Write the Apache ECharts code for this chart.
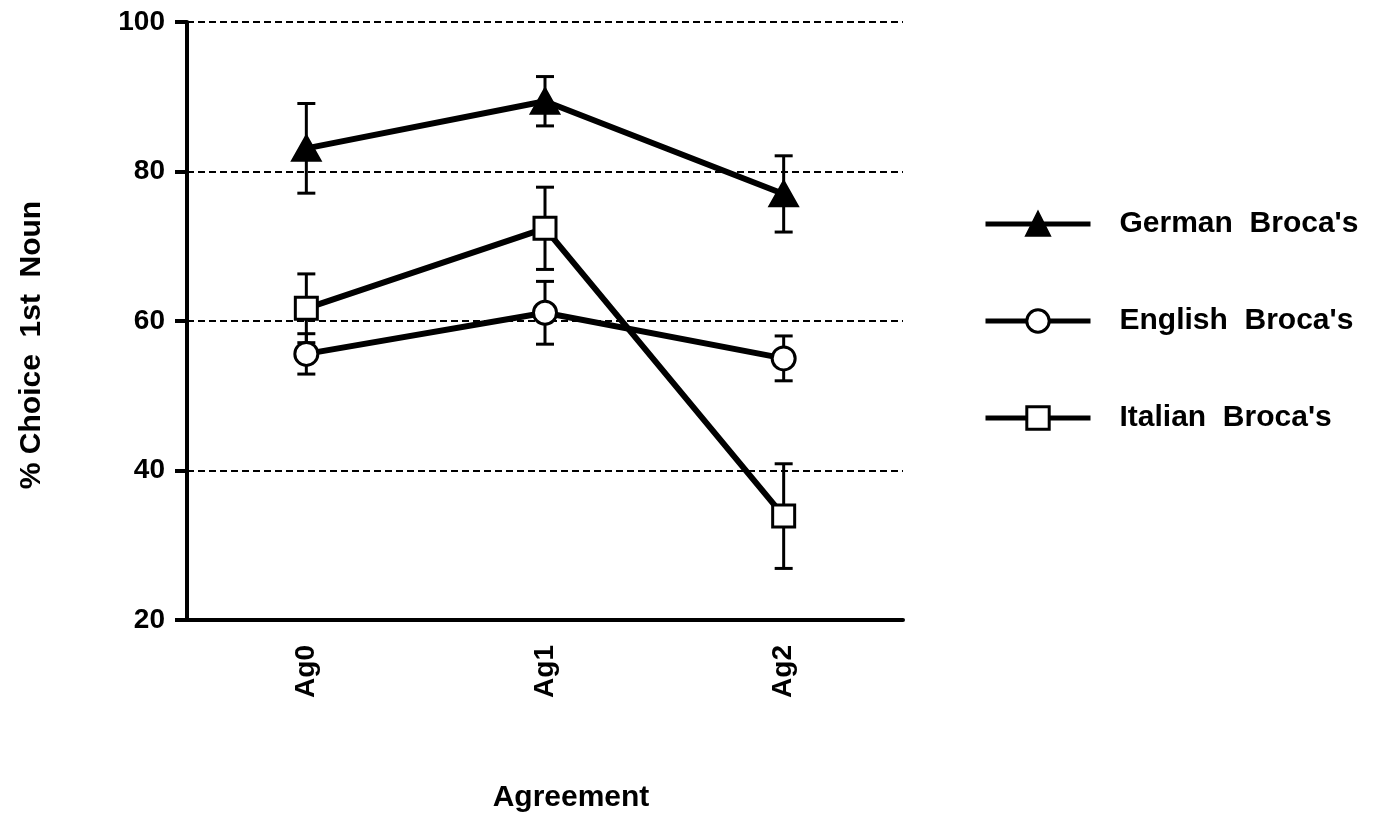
<!DOCTYPE html>
<html>
<head>
<meta charset="utf-8">
<script src="https://cdn.jsdelivr.net/npm/echarts@6/dist/echarts.min.js"></script>
<style>
  html, body { margin: 0; padding: 0; background: #fff; }
  #chart { width: 1395px; height: 813px; }
</style>
</head>
<body>
<div id="chart"></div>
<script>
var categories = ['Ag0', 'Ag1', 'Ag2']
var yTicks = [20, 40, 60, 80, 100]

var germanMean = [83.1, 89.4, 77.0]
var germanErr = [6.0, 3.3, 5.1]
var englishMean = [55.6, 61.1, 55.0]
var englishErr = [2.7, 4.2, 3.0]
var italianMean = [61.7, 72.4, 33.9]
var italianErr = [4.6, 5.5, 7.0]

var FONT = '"Liberation Sans", Arial, sans-serif'

function errData (mean, err) {
  var out = []
  for (var i = 0; i < mean.length; i++) {
    out.push([i, mean[i] - err[i], mean[i] + err[i]])
  }
  return out
}

function errorSeries (mean, err) {
  return {
    type: 'custom',
    z: 1,
    silent: true,
    data: errData(mean, err),
    renderItem: function (params, api) {
      var lo = api.coord([api.value(0), api.value(1)])
      var hi = api.coord([api.value(0), api.value(2)])
      var cap = 9
      var st = { stroke: '#000', lineWidth: 3 }
      return {
        type: 'group',
        children: [
          { type: 'line', shape: { x1: hi[0], y1: hi[1], x2: lo[0], y2: lo[1] }, style: st },
          { type: 'line', shape: { x1: hi[0] - cap, y1: hi[1], x2: hi[0] + cap, y2: hi[1] }, style: st },
          { type: 'line', shape: { x1: lo[0] - cap, y1: lo[1], x2: lo[0] + cap, y2: lo[1] }, style: st }
        ]
      }
    }
  }
}

function lineSeries (name, data, symbol, size, fill) {
  return {
    name: name,
    type: 'line',
    z: 3,
    data: data,
    symbol: symbol,
    symbolSize: size,
    showAllSymbol: true,
    lineStyle: { color: '#000', width: 6 },
    itemStyle: { color: fill, borderColor: '#000', borderWidth: 3 }
  }
}

var chart = echarts.init(document.getElementById('chart'))
chart.setOption({
  animation: false,
  backgroundColor: '#fff',
  grid: {
    left: 187, right: 492, top: 22, bottom: 193,
    containLabel: false, outerBoundsMode: 'none'
  },
  legend: {
    orient: 'vertical',
    left: 978,
    top: 204,
    itemWidth: 105,
    itemHeight: 28,
    itemGap: 67,
    lineStyle: { width: 5, color: '#000' },
    itemStyle: { borderWidth: 3, borderColor: '#000' },
    textStyle: {
      color: '#000', fontSize: 30, fontWeight: 'bold', fontFamily: FONT,
      padding: [0, 0, 0, 24]
    },
    data: ['German  Broca\'s', 'English  Broca\'s', 'Italian  Broca\'s']
  },
  xAxis: {
    type: 'category',
    data: categories,
    boundaryGap: true,
    name: 'Agreement',
    nameLocation: 'middle',
    nameGap: 163,
    nameTextStyle: {
      color: '#000', fontSize: 30, fontWeight: 'bold', fontFamily: FONT,
      padding: [0, 0, 0, 52]
    },
    axisLine: { lineStyle: { color: '#000', width: 4 } },
    axisTick: { alignWithLabel: true, length: 15, lineStyle: { color: '#000', width: 4 } },
    axisLabel: {
      rotate: 90, margin: 25, color: '#000', fontSize: 28,
      fontWeight: 'bold', fontFamily: FONT
    },
    splitLine: { show: false }
  },
  yAxis: {
    type: 'value',
    min: yTicks[0],
    max: yTicks[yTicks.length - 1],
    interval: 20,
    name: '% Choice  1st  Noun',
    nameLocation: 'middle',
    nameGap: 140,
    nameTextStyle: {
      color: '#000', fontSize: 30, fontWeight: 'bold', fontFamily: FONT,
      padding: [0, 48, 0, 0]
    },
    axisLine: { show: true, lineStyle: { color: '#000', width: 4 } },
    axisTick: { show: true, length: 12, lineStyle: { color: '#000', width: 4 } },
    axisLabel: { color: '#000', fontSize: 28, fontWeight: 'bold', fontFamily: FONT, margin: 22 },
    splitLine: { show: true, lineStyle: { color: '#000', width: 2, type: [7, 4] } }
  },
  series: [
    errorSeries(germanMean, germanErr),
    errorSeries(englishMean, englishErr),
    errorSeries(italianMean, italianErr),
    lineSeries('German  Broca\'s', germanMean, 'triangle', [27, 24], '#000'),
    lineSeries('English  Broca\'s', englishMean, 'circle', 23, '#fff'),
    lineSeries('Italian  Broca\'s', italianMean, 'rect', 22, '#fff')
  ]
})
</script>
</body>
</html>
